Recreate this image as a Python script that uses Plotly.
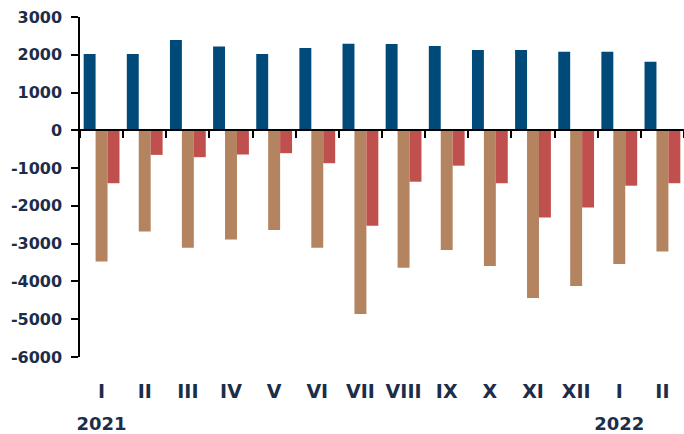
import plotly.graph_objects as go

# ---- data ----
months = ["I", "II", "III", "IV", "V", "VI", "VII", "VIII", "IX", "X", "XI", "XII", "I", "II"]
years = ["2021", "2022"]
year_positions = [0, 12]          # index of the month under which each year label sits
series_blue = [2020, 2020, 2390, 2220, 2020, 2180, 2290, 2285, 2230, 2125, 2125, 2080, 2080, 1815]
series_tan = [-3470, -2680, -3110, -2890, -2635, -3110, -4860, -3640, -3165, -3590, -4440, -4120, -3535, -3205]
series_red = [-1400, -650, -710, -640, -605, -870, -2525, -1360, -935, -1400, -2305, -2040, -1465, -1400]
y_ticks = list(range(-6000, 3001, 1000))
y_tick_text = [str(v) for v in y_ticks]

x = list(range(len(months)))

BLUE = "#004A7A"
TAN = "#B4835F"
RED = "#C0504D"
TEXT = "#1c2d4a"
FONT = "DejaVu Sans"

fig = go.Figure()
fig.add_trace(go.Bar(x=x, y=series_blue, name="series 1", marker=dict(color=BLUE, line=dict(width=0))))
fig.add_trace(go.Bar(x=x, y=series_tan, name="series 2", marker=dict(color=TAN, line=dict(width=0))))
fig.add_trace(go.Bar(x=x, y=series_red, name="series 3", marker=dict(color=RED, line=dict(width=0))))
# invisible helpers so the overlay axes (zero-line ticks, year labels) get drawn
for ax in ("x2", "x3"):
    fig.add_trace(go.Scatter(x=[x[0]], y=[0], xaxis=ax, yaxis="y", mode="markers",
                             marker=dict(opacity=0, size=1), hoverinfo="skip", showlegend=False))

xr = [-0.5, len(months) - 0.5]
yr = [y_ticks[0], y_ticks[-1]]
zero_pos = (0 - yr[0]) / (yr[1] - yr[0])

fig.update_layout(
    width=684, height=434,
    margin=dict(l=80, r=0, t=17, b=77),
    paper_bgcolor="white", plot_bgcolor="white",
    barmode="group", bargap=0.17, bargroupgap=0,
    showlegend=False,
    font=dict(family=FONT, color=TEXT),
    xaxis=dict(
        range=xr, tickmode="array", tickvals=x, ticktext=months,
        showline=False, ticks="", showgrid=False, zeroline=False, automargin=False,
        tickfont=dict(family=FONT, size=19, color=TEXT, weight="bold"),
        ticklabelstandoff=21,
    ),
    xaxis2=dict(
        overlaying="x", anchor="free", position=zero_pos, range=xr,
        tickmode="linear", tick0=0.5, dtick=1,
        showline=True, linecolor="black", linewidth=1.5,
        ticks="outside", ticklen=7, tickwidth=1.5, tickcolor="black",
        showticklabels=False, showgrid=False, zeroline=False, automargin=False,
    ),
    xaxis3=dict(
        overlaying="x", anchor="y", side="bottom", range=xr,
        tickmode="array", tickvals=year_positions, ticktext=years,
        showline=False, ticks="", showgrid=False, zeroline=False, automargin=False,
        tickfont=dict(family=FONT, size=18, color=TEXT, weight="bold"),
        ticklabelstandoff=54,
    ),
    yaxis=dict(
        range=yr, tickmode="array", tickvals=y_ticks, ticktext=y_tick_text,
        showline=True, linecolor="black", linewidth=1.5,
        ticks="outside", ticklen=7, tickwidth=1.5, tickcolor="black",
        showgrid=False, zeroline=False, automargin=False,
        tickfont=dict(family=FONT, size=16, color=TEXT, weight="bold"),
        ticklabelstandoff=6,
    ),
)

fig.write_html("out.html", config={"displayModeBar": False},
               post_script="document.body.style.margin='0';")
